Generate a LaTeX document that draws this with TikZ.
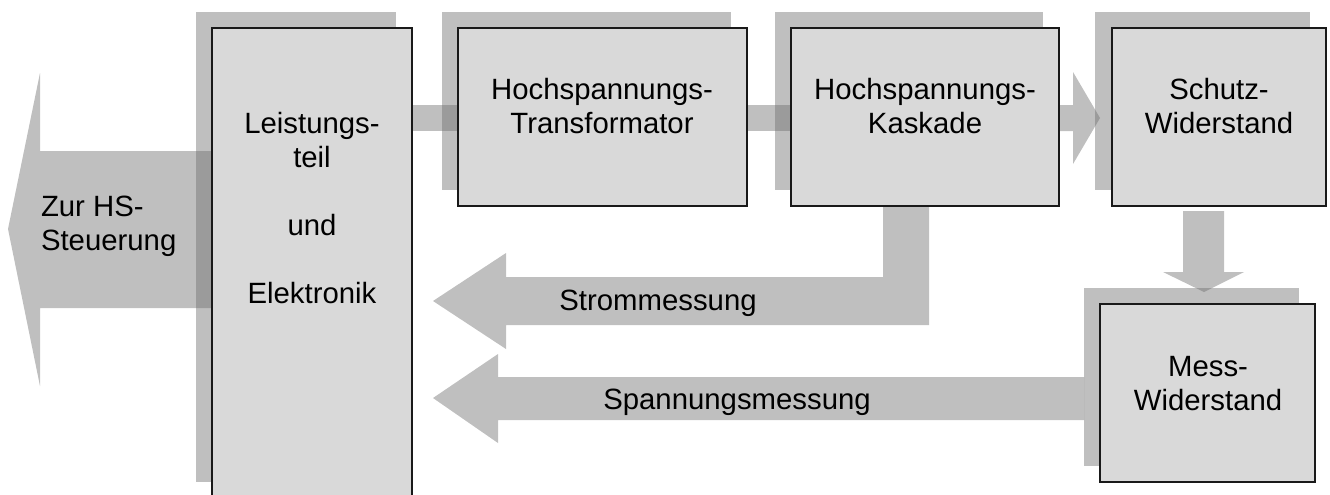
\documentclass[tikz,border=0pt]{standalone}
\usepackage{fontspec}
\setmainfont{Liberation Sans}
\definecolor{shadegray}{gray}{0.427}
\tikzset{
  x=0.75pt,y=-0.75pt,
  shadow part/.style={fill=shadegray,fill opacity=0.4375,draw=none},
  boxn/.style={draw=black!90,line width=1.1pt,fill=black!15,inner sep=0pt,outer sep=0pt},
  lbl/.style={inner sep=0pt,outer sep=0pt,align=center,font=\fontsize{22}{25.5}\selectfont,text=black},
}
\begin{document}
\begin{tikzpicture}
\useasboundingbox (0,0) rectangle (1330,494);
% shadows
\fill[shadow part] (196,12) rectangle (396,482);
\fill[shadow part] (442,12) rectangle (731,190);
\fill[shadow part] (775,12) rectangle (1043,190);
\fill[shadow part] (1095,12) rectangle (1310,190);
\fill[shadow part] (1084,288) rectangle (1299,466);
% named anchor points of the boxes (for the block arrows)
\coordinate (lei) at (212,229);
\coordinate (leiE) at (412,118);
\coordinate (traW) at (458,118);
\coordinate (traE) at (747,118);
\coordinate (kasW) at (791,118);
\coordinate (kasE) at (1059,118);
% block arrows
\fill[shadow part] (lei |- 0,151) -- (40,151) -- (40,73) -- (8,229) -- (40,386) -- (40,308) -- (lei |- 0,308) -- cycle;
\fill[shadow part] (leiE |- 0,105) rectangle (traW |- 0,131);
\fill[shadow part] (traE |- 0,105) rectangle (kasW |- 0,131);
\fill[shadow part] (kasE |- 0,105) -- (1073,105) -- (1073,72) -- (1100,118) -- (1073,164) -- (1073,131) -- (kasE |- 0,131) -- cycle;
\fill[shadow part] (1183,211) -- (1224,211) -- (1224,272) -- (1244,272) -- (1204,292) -- (1163,272) -- (1183,272) -- cycle;
\fill[shadow part] (883,206) -- (929,206) -- (929,325) -- (506,325) -- (506,349) -- (433,301) -- (506,253) -- (506,277) -- (883,277) -- cycle;
\fill[shadow part] (1084,377) -- (498,377) -- (498,354) -- (433,398) -- (498,443) -- (498,420) -- (1084,420) -- cycle;
% boxes
\node[boxn,minimum width=150pt,minimum height=354pt] (leistung) at (312,264) {};
\node[boxn,minimum width=216.75pt,minimum height=133.5pt] (trafo) at (602.5,117) {};
\node[boxn,minimum width=201pt,minimum height=133.5pt] (kaskade) at (925,117) {};
\node[boxn,minimum width=160.5pt,minimum height=133.5pt] (schutz) at (1219,117) {};
\node[boxn,minimum width=161.25pt,minimum height=133.5pt] (mess) at (1207.5,393) {};
% labels
\node[lbl] (t1) at (312,208) {Leistungs-\\teil\\[25.5pt]und\\[25.5pt]Elektronik};
\node[lbl,align=left,anchor=west] (t2) at (41,226.5) {Zur HS-\\Steuerung};
\node[lbl] (t3) at (602,106) {Hochspannungs-\\Transformator};
\node[lbl] (t4) at (925,106) {Hochspannungs-\\Kaskade};
\node[lbl] (t5) at (1219,106) {Schutz-\\Widerstand};
\node[lbl] (t6) at (1208,383.5) {Mess-\\Widerstand};
\node[lbl,anchor=base] (t7) at (658,310) {Strommessung};
\node[lbl,anchor=base] (t8) at (737,409) {Spannungsmessung};
\end{tikzpicture}
\end{document}
